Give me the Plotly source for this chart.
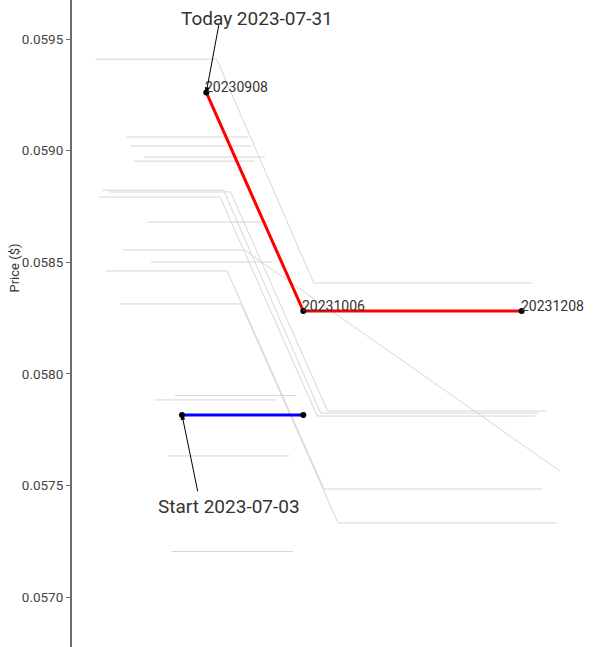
import plotly.graph_objects as go

# ---- data ----
gray_dates = [
    ["2023-08-07", "2023-09-11", "2023-10-09", "2023-12-11"],
    ["2023-08-16", "2023-09-20"],
    ["2023-08-17", "2023-09-21"],
    ["2023-08-21", "2023-09-25"],
    ["2023-08-18", "2023-09-22"],
    ["2023-08-09", "2023-09-13", "2023-10-11", "2023-12-13"],
    ["2023-08-11", "2023-09-15", "2023-10-13", "2023-12-15"],
    ["2023-08-08", "2023-09-12", "2023-10-10", "2023-12-12"],
    ["2023-08-22", "2023-09-26"],
    ["2023-08-15", "2023-09-19", "2023-12-19"],
    ["2023-08-23", "2023-09-27"],
    ["2023-08-10", "2023-09-14", "2023-10-12", "2023-12-14"],
    ["2023-08-14", "2023-09-18", "2023-10-16", "2023-12-18"],
    ["2023-08-30", "2023-10-04"],
    ["2023-08-24", "2023-09-28"],
    ["2023-08-28", "2023-10-02"],
    ["2023-08-29", "2023-10-03"],
]
gray_prices = [
    [0.05941, 0.05941, 0.058407, 0.058407],
    [0.059061, 0.059061],
    [0.059021, 0.059021],
    [0.058971, 0.058971],
    [0.058953, 0.058953],
    [0.058823, 0.058823, 0.057824, 0.057824],
    [0.058815, 0.058815, 0.057833, 0.057833],
    [0.058792, 0.058792, 0.057811, 0.057811],
    [0.05868, 0.05868],
    [0.058555, 0.058555, 0.057565],
    [0.058501, 0.058501],
    [0.058461, 0.058461, 0.057484, 0.057484],
    [0.058313, 0.058313, 0.057332, 0.057332],
    [0.057903, 0.057903],
    [0.057883, 0.057883],
    [0.057632, 0.057632],
    [0.057204, 0.057204],
]
today_dates = ["2023-09-08", "2023-10-06", "2023-12-08"]
today_prices = [0.059261, 0.058281, 0.058281]
today_labels = ["20230908", "20231006", "20231208"]
start_dates = ["2023-09-01", "2023-10-06"]
start_prices = [0.057816, 0.057816]
y_ticks = [0.0570, 0.0575, 0.0580, 0.0585, 0.0590, 0.0595]

FONT = "Roboto"
fig = go.Figure()

for d, p in zip(gray_dates, gray_prices):
    fig.add_trace(go.Scatter(x=d, y=p, mode="lines",
                             line=dict(color="#d6d6d6", width=1),
                             hoverinfo="skip", showlegend=False))

fig.add_trace(go.Scatter(x=today_dates, y=today_prices, mode="lines+markers",
                         line=dict(color="red", width=3),
                         marker=dict(color="black", size=6), showlegend=False))
fig.add_trace(go.Scatter(x=start_dates, y=start_prices, mode="lines+markers",
                         line=dict(color="blue", width=3),
                         marker=dict(color="black", size=6), showlegend=False))

annotations = []
for d, p, t in zip(today_dates, today_prices, today_labels):
    annotations.append(dict(x=d, y=p, text=t, showarrow=False, xanchor="left",
                            yanchor="middle", xshift=-3, yshift=5,
                            font=dict(family=FONT, size=14, color="#333333")))

# Today arrow + text
annotations.append(dict(x=today_dates[0], y=today_prices[0], text="", showarrow=True,
                        ax=13, ay=-70, arrowhead=2, arrowsize=1, arrowwidth=1,
                        arrowcolor="black", standoff=0))
annotations.append(dict(x=today_dates[0], y=today_prices[0], text="Today 2023-07-31",
                        showarrow=False, xanchor="center", yanchor="middle",
                        xshift=51, yshift=74,
                        font=dict(family=FONT, size=19, color="#333333")))
# Start arrow + text
annotations.append(dict(x=start_dates[0], y=start_prices[0], text="", showarrow=True,
                        ax=16, ay=78, arrowhead=2, arrowsize=1, arrowwidth=1,
                        arrowcolor="black", standoff=0))
annotations.append(dict(x=start_dates[0], y=start_prices[0], text="Start 2023-07-03",
                        showarrow=False, xanchor="center", yanchor="middle",
                        xshift=47, yshift=-92,
                        font=dict(family=FONT, size=19, color="#333333")))
# y axis title
annotations.append(dict(xref="paper", yref="paper", x=0, y=0.585, xshift=-57,
                        text="Price ($)", textangle=-90, showarrow=False,
                        xanchor="center", yanchor="middle",
                        font=dict(family=FONT, size=13, color="#333333")))

fig.update_layout(
    width=608, height=647,
    margin=dict(l=72, r=0, t=0, b=0),
    paper_bgcolor="white", plot_bgcolor="white",
    hovermode=False,
    font=dict(family=FONT, size=13, color="#444444"),
    annotations=annotations,
    xaxis=dict(type="date", range=["2023-07-31 06:00", "2024-01-01 22:00"],
               visible=False, showgrid=False, zeroline=False),
    yaxis=dict(range=[0.056776, 0.059675], tickvals=y_ticks,
               tickformat=".4f", showgrid=False, zeroline=False,
               showline=True, linecolor="#6e6e6e", linewidth=2,
               ticks="outside", ticklen=4, tickcolor="#6e6e6e",
               tickfont=dict(family=FONT, size=13.5, color="#444444")),
)

fig.write_html("out.html", config={"displayModeBar": False, "staticPlot": True},
               post_script="document.body.style.margin='0px';document.body.style.overflow='hidden';")
